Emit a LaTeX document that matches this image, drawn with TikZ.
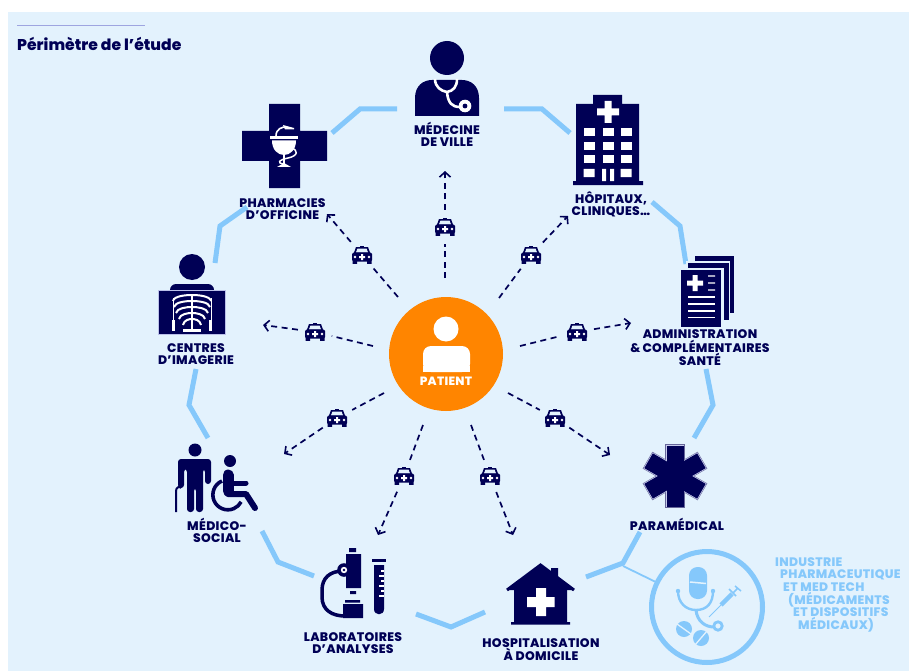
\documentclass[tikz,border=0pt]{standalone}
\usepackage{fontspec}
\setmainfont{Poppins}[BoldFont={Poppins ExtraBold}]
\newfontfamily\lblfont{Poppins}[LetterSpace=2.5,BoldFont={Poppins ExtraBold}]
\usetikzlibrary{arrows.meta}
\definecolor{bgblue}{HTML}{E3F2FD}
\definecolor{navy}{HTML}{000055}
\definecolor{sky}{HTML}{85C8FB}
\definecolor{orangep}{HTML}{FF8500}
\definecolor{lav}{HTML}{9EA5E0}
\tikzset{
  ring/.style={draw=sky,line width=5pt,line join=miter},
  whl/.style={draw=white},
  dashln/.style={draw=navy,line width=1.7pt,dash pattern=on 6pt off 4.5pt},
  dasharr/.style={dashln,-{Straight Barb[length=5pt,width=11pt,line width=1.6pt]}},
  carbox/.style={circle,minimum size=34pt,inner sep=0pt,draw=none},
  lbl/.style={text=navy,align=center,inner sep=0pt,font=\lblfont\bfseries\fontsize{12.4}{12.3}\selectfont},
  indl/.style={text=sky,anchor=west,inner sep=0pt,font=\lblfont\bfseries\fontsize{12.3}{12.4}\selectfont},
  taxi/.pic={
    \fill[navy] (-2,-9.5) rectangle (2,-7.5);
    \fill[navy] (-6,-8) -- (6,-8) -- (8.5,-1) -- (-8.5,-1) -- cycle;
    \fill[bgblue] (-4.6,-6.4) -- (4.6,-6.4) -- (6,-2.6) -- (-6,-2.6) -- cycle;
    \fill[navy,rounded corners=1.5pt] (-10,-2.5) rectangle (10,6.5);
    \fill[navy] (-9.5,5) rectangle (-5,8.8) (5,5) rectangle (9.5,8.8);
    \fill[white] (-3,1) rectangle (3,3) (-1,-1) rectangle (1,5);
    \fill[white] (-7,2) circle[radius=1.3] (7,2) circle[radius=1.3];
  }
}
\begin{document}
\begin{tikzpicture}[x=1pt,y=-1pt]
\useasboundingbox (0,0) rectangle (909,671);
\fill[bgblue] (8,12) rectangle (909,671);
% header
\coordinate (hl) at (17,25.5); \coordinate (hr) at (145,25.5);
\draw[lav,line width=1pt] (hl) -- (hr);
\node[anchor=base west,inner sep=0pt,text=navy,font=\bfseries\fontsize{15.6}{16}\selectfont] (titre) at (17,50.5) {Périmètre de l’étude};

% ring segments
\foreach \n/\x/\y in {a1/397/109,a2/332/133,b1/504/109,b2/570/133,c1r/652/202,c2r/686/264,d1/706/369,d2/694/438,e1/640/532,e2/586/577,f1/485/612,f2/416/614,g1/314/576,g2/262/531,h1/208/438,h2/196/369,i1/215/263,i2/247/207}
  \coordinate (\n) at (\x,\y);
\draw[ring] (a1) -- (360,109) -- (a2);
\draw[ring] (b1) -- (542,109) -- (b2);
\draw[ring] (c1r) -- (680,226) -- (c2r);
\draw[ring] (d1) -- (713,405) -- (d2);
\draw[ring] (e1) -- (623,563) -- (e2);
\draw[ring] (f1) -- (451,627) -- (f2);
\draw[ring] (g1) -- (278,562) -- (g2);
\draw[ring] (h1) -- (189,405) -- (h2);
\draw[ring] (i1) -- (220,226) -- (i2);

% patient
\node[circle,fill=orangep,minimum size=114pt,inner sep=0pt] (patient) at (446,354) {};
\fill[white] (446,329) circle[radius=12.5];
\fill[white,rounded corners=8pt] (423,372) -- (423,346) -- (470,346) -- (470,372) -- cycle;
\fill[white] (423,366) rectangle (470,372);
\node[text=white,inner sep=0pt,font=\lblfont\bfseries\fontsize{12}{12}\selectfont] (patlab) at (446,381) {PATIENT};

% arrows with taxis
\foreach \n/\cx/\cy/\sx/\sy/\ex/\ey in {
  1/445/227/445/278/445/171,
  2/531/255/499/298/568/216,
  3/577/332/520/346/631/323,
  4/555/418/508/393/610/455,
  5/490/476/471/425/513/535,
  6/404/476/423/425/378/535,
  7/337/418/384/393/284/454,
  8/315/332/373/346/263/325,
  9/362/255/398/297/327/214}{
  \node[carbox] (car\n) at (\cx,\cy) {};
  \coordinate (st\n) at (\sx,\sy);
  \coordinate (tip\n) at (\ex,\ey);
  \draw[dashln] (st\n) -- (car\n);
  \draw[dasharr] (car\n) -- (tip\n);
  \pic at (car\n) {taxi};
}

% medecine
\fill[navy] (447,58) circle[radius=17];
\fill[navy] (415,116) -- (415,98) .. controls (415,86) and (423,80) .. (432,80) -- (462,80) .. controls (471,80) and (479,86) .. (479,98) -- (479,116) -- cycle;
\draw[white,line width=2.6pt] (435,79) .. controls (435,87) and (441,91) .. (447,92) .. controls (453,91) and (457,87) .. (457,79);
\draw[white,line width=2.6pt] (447,92) .. controls (448,103) and (452,107) .. (460,107);
\fill[white] (465,106) circle[radius=6.3];
\fill[navy] (465,106) circle[radius=2.4];
\node[lbl] (medecine) at (447,134.5) {MÉDECINE\\DE VILLE};

% hopital
\fill[navy] (593,95) rectangle (622,105) (576,104) rectangle (639,182) (573,181) rectangle (643,185);
\fill[white] (597,108.5) rectangle (619,115.5) (604.5,101) rectangle (611.5,123);
\foreach \px in {589,608,626} \foreach \py in {132,146,159}
  \fill[white] (\px-5.5,\py-4) rectangle (\px+5.5,\py+4);
\fill[white] (583.5,169) rectangle (594.5,177) (620.5,169) rectangle (631.5,177);
\fill[white] (602,169) rectangle (606,181) (610,169) rectangle (614,181);
\node[lbl] (hopitaux) at (611,204) {HÔPITAUX,\\CLINIQUES…};

% pharmacie
\fill[navy] (269,104) rectangle (300,188) (242,131) rectangle (327,161);
\draw[white,line width=1.6pt] (276,136) .. controls (276,129) and (282,126.5) .. (287,127);
\fill[white] (283,125) -- (294,128) -- (294,129.5) -- (285,129.5) -- cycle;
\fill[white] (270,136.3) rectangle (298,138.8);
\fill[white] (272,140.5) -- (296,140.5) .. controls (296,150) and (290,155) .. (284,155) .. controls (278,155) and (272,150) .. (272,140.5) -- cycle;
\draw[white,line width=1.2pt] (284,155) -- (284,164);
\draw[white,line width=1.5pt] (291,148) .. controls (299,150) and (298,156) .. (288,158) .. controls (279,160) and (276,163) .. (284,164);
\fill[white] (277,167) -- (284,163) -- (291,167) -- cycle;
\node[lbl] (pharmacie) at (282.5,209) {PHARMACIES\\D’OFFICINE};

% imagerie
\fill[navy] (192,267) circle[radius=13];
\fill[navy,rounded corners=6pt] (170,296) -- (170,284) -- (214,284) -- (214,296) -- cycle;
\fill[navy,draw=lav!70!white,line width=.8pt] (158.5,290.5) rectangle (225,334);
\fill[navy] (160,292) rectangle (223.5,332.5);
\begin{scope}[whl]
  \draw[line width=1.8pt] (192,295) -- (192,330);
  \draw[line width=3pt] (183,330) -- (201,330);
  \foreach \w/\yy in {19/295,18/301,16/307,13/313,9/319}
    \draw[line width=2pt] (192-\w,\yy+6) .. controls (192-\w+1,\yy+1) and (192-\w/3,\yy) .. (192,\yy) .. controls (192+\w/3,\yy) and (192+\w-1,\yy+1) .. (192+\w,\yy+6);
  \draw[line width=1pt] (173,298) -- (173,320) (211,298) -- (211,320);
  \draw[line width=3pt] (173.5,320) -- (173.5,331) (210.5,320) -- (210.5,331);
\end{scope}
\node[lbl] (imagerie) at (196,354) {CENTRES\\D’IMAGERIE};

% admin
\fill[navy] (695,256) rectangle (734,313);
\fill[bgblue] (686,261) rectangle (730,322);
\fill[navy] (688,263) rectangle (729,320);
\fill[bgblue] (679,268) rectangle (724,329);
\fill[navy] (681,270) rectangle (721,327);
\fill[white] (687,280.5) rectangle (703,285.5) (692.5,275) rectangle (697.5,291);
\fill[white] (708,275.3) rectangle (715,276.7) (708,282.3) rectangle (715,283.7) (708,289.3) rectangle (715,290.7);
\foreach \py in {297,304,311,317.5} \fill[white] (688,\py-.8) rectangle (715,\py+.8);
\node[lbl] (admin) at (700,348) {ADMINISTRATION\\\&\,COMPLÉMENTAIRES\\SANTÉ};

% paramedical
\foreach \a in {0,60,120} \fill[navy!60!white,rotate around={\a:(675,476)}] (665.3,444.3) rectangle (684.7,507.7);
\foreach \a in {0,60,120} \fill[lav!60!white,rotate around={\a:(675,476)}] (665.8,444.8) rectangle (684.2,507.2);
\foreach \a in {0,60,120} \fill[navy,rotate around={\a:(675,476)}] (666.5,445.5) rectangle (683.5,506.5);
\node[lbl] (para) at (677,524) {PARAMÉDICAL};

% hospitalisation
\fill[navy] (514,586) rectangle (567,622) (511,622) rectangle (570,624.5) (551,568) rectangle (558,582);
\draw[navy,line width=3pt,fill=navy,line join=miter] (507,590) -- (540.5,565) -- (574,590) ;
\fill[navy] (510,589) -- (540.5,566) -- (571,589) -- cycle;
\fill[white] (527,597) rectangle (554.5,607) (536,588) rectangle (546,616);
\node[lbl] (hosp) at (541,649.5) {HOSPITALISATION\\À DOMICILE};

% laboratoire
\fill[navy] (349,548) rectangle (356,552) (346,554) rectangle (361,588) (350,591) rectangle (356,594);
\fill[navy] (343,604) rectangle (363,618) (345,600) rectangle (360,602.5);
\draw[navy,line width=3.5pt] (343,571) .. controls (330,571) and (322,578) .. (322,590) -- (322,597) .. controls (322,610) and (332,616) .. (345,616);
\fill[navy] (344,570) circle[radius=6.8];
\fill[white] (344,570) circle[radius=3.2];
\fill[navy] (344,570) circle[radius=1.3];
\fill[navy] (372,559) rectangle (386,562);
\fill[navy] (374,565) -- (384,565) -- (384,609) .. controls (384,616) and (374,616) .. (374,609) -- cycle;
\foreach \py/\w in {571/3,576/5,581/3,586/5,591/3,596/5} \fill[white] (384-\w,\py-.6) rectangle (384,\py+.6);
\node[lbl] (labo) at (353,643) {LABORATOIRES\\D’ANALYSES};

% medico-social
\fill[navy] (195,450) circle[radius=6.5];
\fill[navy,rounded corners=3pt] (178,488) -- (178,459) -- (211,459) -- (211,484) -- (205,484) -- (205,469) -- (203,469) -- (203,512) -- (196,512) -- (196,488) -- (194,488) -- (194,512) -- (187,512) -- (187,469) -- (184,469) -- (184,488) -- cycle;
\draw[navy,line width=2pt] (176,512) -- (176,491) .. controls (176,487) and (180,486) .. (181,488);
\fill[navy] (230,461) circle[radius=6];
\draw[navy,line width=11pt,line cap=round,line join=round] (228,475) -- (228,491);
\draw[navy,line width=6pt,line cap=round,line join=round] (228,494) -- (246,494) -- (255,508);
\draw[navy,line width=5pt,line cap=round] (230,483) -- (246,483);
\draw[navy,line width=3.6pt] (222,481) arc[start angle=247,end angle=28,radius=15];
\node[lbl] (medico) at (217,530.5) {MÉDICO-\\SOCIAL};

% industrie
\node[circle,draw=sky,line width=5pt,minimum size=111pt,inner sep=0pt] (indus) at (707,607) {};
\coordinate (lienind) at (623,566);
\draw[sky,line width=1.8pt] (lienind) -- (indus);
\fill[sky,rounded corners=8.5pt] (689,567) rectangle (707,599);
\draw[bgblue,line width=1.5pt] (690,582) -- (706,583.5);
\draw[sky,line width=2.4pt] (678,591) .. controls (678,603) and (686,610) .. (696,610) .. controls (707,610) and (713,603) .. (713,591);
\fill[sky] (678,591) circle[radius=2.2] (713,591) circle[radius=2.2];
\draw[sky,line width=3pt] (696,610) .. controls (697,621) and (705,627) .. (714,627);
\draw[sky,line width=2.8pt] (718,626) circle[radius=4.2];
\draw[sky,line width=.9pt] (709,617) -- (722,604);
\draw[sky,line width=4.5pt] (721,605) -- (732,594);
\draw[sky,line width=1.5pt] (733,593) -- (738,588) (729,589) -- (736,596) (735,586) -- (741,591);
\fill[sky] (684,629) circle[radius=8] (701,638) circle[radius=8];
\draw[bgblue,line width=1.3pt] (677,624) -- (691,634) (695,645) -- (707,631);
\node[indl] (ind1) at (775,562) {INDUSTRIE};
\node[indl] (ind2) at (780,574.5) {PHARMACEUTIQUE};
\node[indl] (ind3) at (783,587) {ET MED TECH};
\node[indl] (ind4) at (788,599.5) {(MÉDICAMENTS};
\node[indl] (ind5) at (793,612) {ET DISPOSITIFS};
\node[indl] (ind6) at (798,624.5) {MÉDICAUX)};
\end{tikzpicture}
\end{document}
